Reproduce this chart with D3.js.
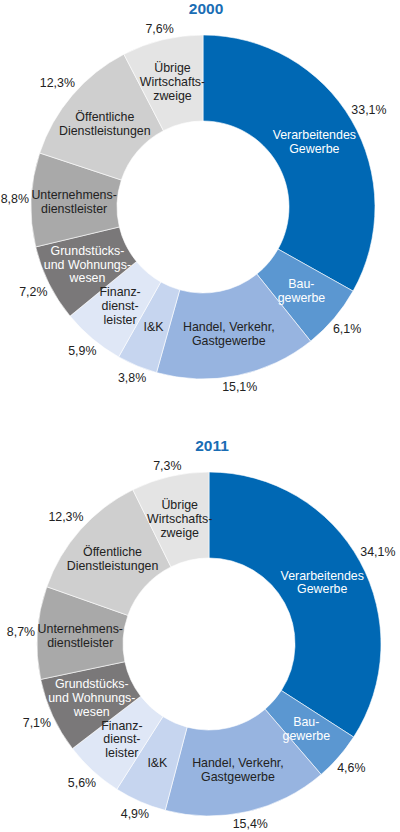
<!DOCTYPE html>
<html>
<head>
<meta charset="utf-8">
<script src="https://cdn.jsdelivr.net/npm/d3@7"></script>
<style>
  body { margin: 0; background: #fff; }
  svg { display: block; }
</style>
</head>
<body>
<div class="chart"></div>
<script>
// Wirtschaftsbereiche, im Uhrzeigersinn ab 12 Uhr
let categories = [
  "Verarbeitendes|Gewerbe",
  "Bau-|gewerbe",
  "Handel, Verkehr,|Gastgewerbe",
  "I&K",
  "Finanz-|dienst-|leister",
  "Grundstücks-|und Wohnungs-|wesen",
  "Unternehmens-|dienstleister",
  "Öffentliche|Dienstleistungen",
  "Übrige|Wirtschafts-|zweige"
];
let years = ["2000", "2011"];
let shares2000 = [33.1, 6.1, 15.1, 3.8, 5.9, 7.2, 8.8, 12.3, 7.6];
let shares2011 = [34.1, 4.6, 15.4, 4.9, 5.6, 7.1, 8.7, 12.3, 7.3];

let config = {
  width: 400,
  height: 832,
  outerRadius: 172,
  innerRadius: 86,
  labelRadius: 129,
  pctGap: 2,
  centers: [[203, 207], [209, 644]],
  fontFamily: '"Liberation Sans", Arial, Helvetica, sans-serif',
  fontSize: 12.4,
  lineHeight: 13.8,
  titleColor: '#1a6db4',
  sliceColors: ['#0068b4', '#5b97d1', '#97b4e0', '#c6d5ef', '#dfe7f6',
                '#7a7879', '#a9a9a9', '#cfcfcf', '#e4e4e4'],
  textColors: ['#fff', '#fff', '#222', '#222', '#222', '#fff', '#222', '#222', '#222']
};

let locale = d3.formatLocale({ decimal: ",", thousands: ".", grouping: [3], currency: ["", "€"] });
let fmt = locale.format(".1f");

let svg = d3.select('div.chart').append('svg')
  .attr('width', config.width)
  .attr('height', config.height);

let pie = d3.pie().sort(null).value((d) => d);

let arc = d3.arc()
  .innerRadius(config.innerRadius)
  .outerRadius(config.outerRadius);

let labelArc = d3.arc()
  .innerRadius(config.labelRadius)
  .outerRadius(config.labelRadius);

[shares2000, shares2011].forEach(function(shares, k) {
  let c = config.centers[k];
  let g = svg.append('g').attr('transform', 'translate(' + c[0] + ',' + c[1] + ')');
  let arcs = pie(shares);

  g.selectAll('path')
    .data(arcs)
    .enter().append('path')
    .attr('d', arc)
    .attr('fill', (d, i) => config.sliceColors[i])
    .attr('stroke', '#fff')
    .attr('stroke-width', 0.6);

  // Bereichsnamen im Ring
  let names = g.selectAll('text.name')
    .data(arcs)
    .enter().append('text')
    .attr('class', 'name')
    .attr('font-family', config.fontFamily)
    .attr('font-size', config.fontSize)
    .attr('text-anchor', 'middle')
    .attr('fill', (d, i) => config.textColors[i]);

  names.each(function(d, i) {
    let lines = categories[i].split('|');
    let p = labelArc.centroid(d);
    let y0 = p[1] - (lines.length - 1) * config.lineHeight / 2;
    d3.select(this).selectAll('tspan')
      .data(lines)
      .enter().append('tspan')
      .attr('x', p[0])
      .attr('y', (l, j) => y0 + j * config.lineHeight)
      .attr('dy', '0.35em')
      .text((l) => l);
  });

  // Prozentwerte außen: Textbox knapp außerhalb des Rings
  g.selectAll('text.pct')
    .data(arcs)
    .enter().append('text')
    .attr('class', 'pct')
    .attr('dy', '0.35em')
    .attr('font-family', config.fontFamily)
    .attr('font-size', config.fontSize)
    .attr('text-anchor', 'middle')
    .attr('fill', '#222')
    .text((d) => fmt(d.data) + '%')
    .each(function(d) {
      let a = (d.startAngle + d.endAngle) / 2;
      let halfW = this.getComputedTextLength() / 2;
      let halfH = config.fontSize / 2;
      let r = config.outerRadius + config.pctGap
        + Math.abs(Math.sin(a)) * halfW + Math.abs(Math.cos(a)) * halfH;
      d3.select(this)
        .attr('x', Math.sin(a) * r)
        .attr('y', -Math.cos(a) * r);
    });

  g.append('text')
    .attr('x', 3)
    .attr('y', -config.outerRadius - 21)
    .attr('font-family', config.fontFamily)
    .attr('font-size', 15.5)
    .attr('font-weight', 'bold')
    .attr('text-anchor', 'middle')
    .attr('fill', config.titleColor)
    .text(years[k]);
});
</script>
</body>
</html>
